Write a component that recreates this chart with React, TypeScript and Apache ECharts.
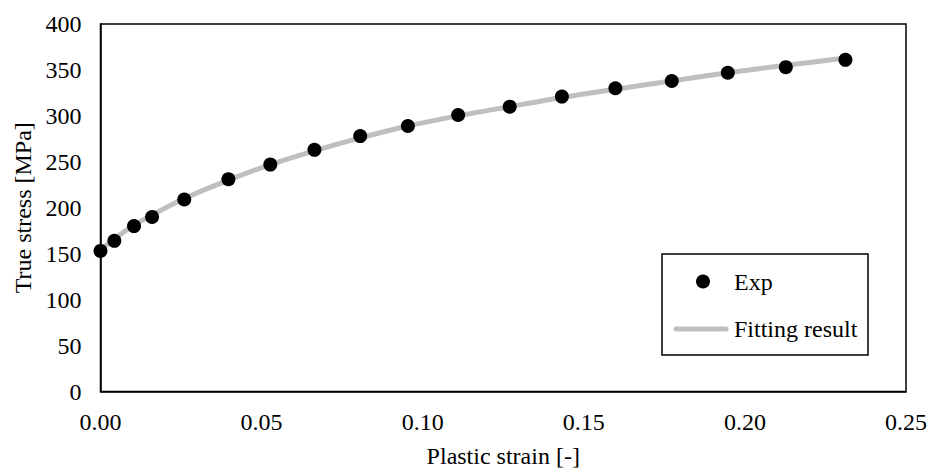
import React, { useEffect, useRef } from "react";
import * as echarts from "echarts";

const expStrain = [0, 0.0043, 0.0104, 0.016, 0.026, 0.0397, 0.0527, 0.0664, 0.0806, 0.0954, 0.111, 0.127, 0.1432, 0.1598, 0.1773, 0.1947, 0.2127, 0.2312];
const expStress = [153, 164, 180, 190, 209, 231, 247, 263, 278, 289, 301, 310, 321, 330, 338, 347, 353, 361];
const fitStrain = [0, 0.0043, 0.0104, 0.016, 0.026, 0.0397, 0.0527, 0.0664, 0.0806, 0.0954, 0.111, 0.127, 0.1432, 0.1598, 0.1773, 0.1947, 0.2127, 0.2312];
const fitStress = [154, 166, 181, 192, 210, 230, 247, 262, 276, 289, 300, 310, 320, 329, 338, 347, 355, 363];
const legendNames = ["Exp", "Fitting result"];

const FONT = "'Liberation Serif', 'Times New Roman', serif";
const FS = 24;

export default function App() {
  const ref = useRef<HTMLDivElement>(null);
  useEffect(() => {
    if (!ref.current) return;
    const chart = echarts.init(ref.current, undefined, { renderer: "svg" });
    chart.setOption({
      animation: false,
      backgroundColor: "#ffffff",
      textStyle: { fontFamily: FONT, color: "#000" },
      grid: {
        left: 100.5,
        right: 24,
        top: 24,
        bottom: 78,
        show: true,
        borderColor: "#000",
        borderWidth: 1.5,
      },
      legend: { show: false },
      graphic: [
        {
          type: "rect",
          shape: { x: 662, y: 254, width: 206, height: 101 },
          style: { fill: "#fff", stroke: "#000", lineWidth: 1.5 },
          z: 10,
        },
        {
          type: "circle",
          shape: { cx: 703, cy: 281.5, r: 7 },
          style: { fill: "#000" },
          z: 11,
        },
        {
          type: "line",
          shape: { x1: 676, y1: 329, x2: 726, y2: 329 },
          style: { stroke: "#BFBFBF", lineWidth: 5, lineCap: "round" },
          z: 11,
        },
        {
          type: "text",
          x: 734,
          y: 282,
          style: { text: legendNames[0], font: `${FS}px ${FONT}`, fill: "#000", verticalAlign: "middle", align: "left" },
          z: 11,
        },
        {
          type: "text",
          x: 734,
          y: 329,
          style: { text: legendNames[1], font: `${FS}px ${FONT}`, fill: "#000", verticalAlign: "middle", align: "left" },
          z: 11,
        },
      ],
      xAxis: {
        type: "value",
        min: 0,
        max: 0.25,
        interval: 0.05,
        name: "Plastic strain [-]",
        nameLocation: "middle",
        nameGap: 52.5,
        nameTextStyle: { fontFamily: FONT, fontSize: FS, color: "#000" },
        axisLine: { show: true, onZero: false, lineStyle: { color: "#000", width: 1.5 } },
        axisTick: { show: false },
        splitLine: { show: false },
        axisLabel: {
          fontFamily: FONT,
          fontSize: FS,
          color: "#000",
          margin: 18,
          formatter: (v: number) => v.toFixed(2),
        },
      },
      yAxis: {
        type: "value",
        min: 0,
        max: 400,
        interval: 50,
        name: "True stress [MPa]",
        nameLocation: "middle",
        nameGap: 60,
        nameTextStyle: { fontFamily: FONT, fontSize: FS, color: "#000" },
        axisLine: { show: true, lineStyle: { color: "#000", width: 1.5 } },
        axisTick: { show: false },
        splitLine: { show: false },
        axisLabel: { fontFamily: FONT, fontSize: FS, color: "#000", margin: 19 },
      },
      series: [
        {
          name: legendNames[1],
          type: "line",
          data: fitStrain.map((x, i) => [x, fitStress[i]]),
          symbol: "none",
          smooth: 0.3,
          lineStyle: { color: "#BFBFBF", width: 5, cap: "round" },
          itemStyle: { color: "#BFBFBF" },
          z: 2,
        },
        {
          name: legendNames[0],
          type: "scatter",
          data: expStrain.map((x, i) => [x, expStress[i]]),
          symbol: "circle",
          symbolSize: 14,
          itemStyle: { color: "#000", opacity: 1 },
          z: 3,
        },
      ],
    });
    return () => chart.dispose();
  }, []);
  return <div ref={ref} style={{ width: 930, height: 473, position: "absolute", left: 0, top: 0 }} />;
}
